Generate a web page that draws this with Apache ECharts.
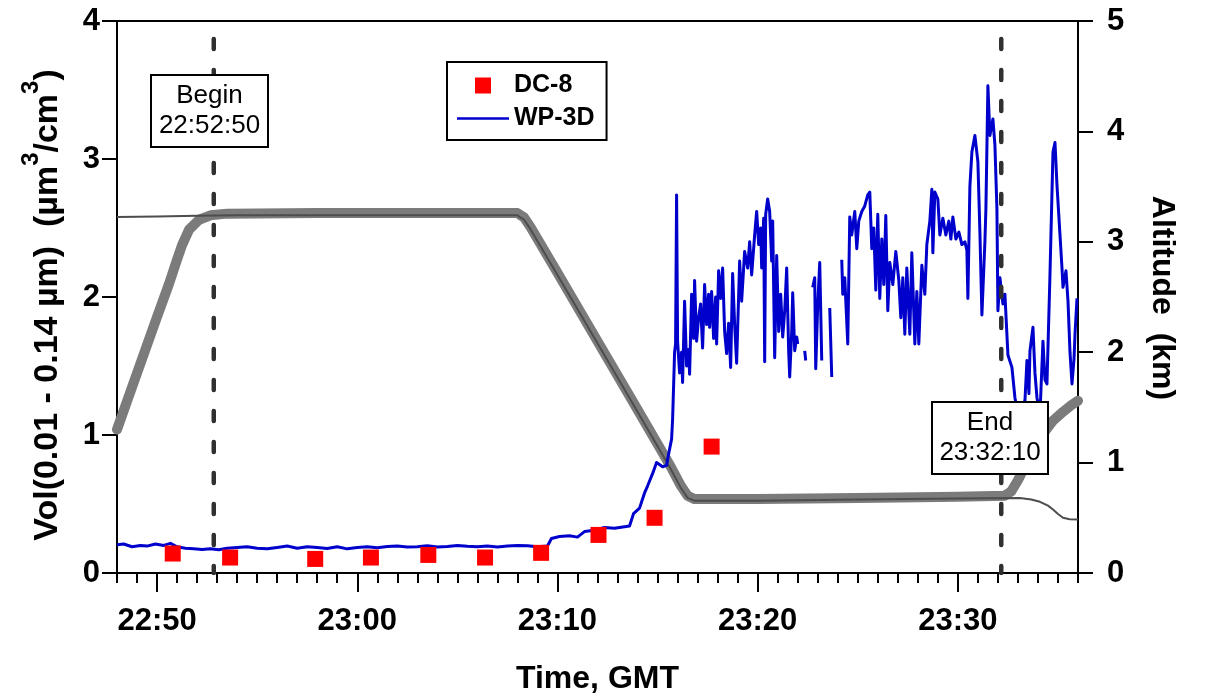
<!DOCTYPE html>
<html><head><meta charset="utf-8">
<script src="https://cdn.jsdelivr.net/npm/echarts@6/dist/echarts.min.js"></script>
<style>html,body{margin:0;padding:0;background:#fff}#c{width:1205px;height:700px}</style>
</head><body><div id="c"></div>
<script>
// ---------- data ----------
const xTickLabels = ['22:50', '23:00', '23:10', '23:20', '23:30'];
const xMin = '22:48', xMax = '23:36';
const beginTime = '22:52:50', endTime = '23:32:10';

const dc8Times = ['22:50:47','22:53:39','22:57:54','23:00:41','23:03:33','23:06:23','23:09:11','23:12:03','23:14:51','23:17:42'];
const dc8Vol   = [0.141, 0.112, 0.102, 0.112, 0.131, 0.112, 0.146, 0.276, 0.400, 0.916];

const wp3dTimes = [
'22:48:00','22:48:20','22:48:45','22:49:10','22:49:30','22:49:55','22:50:20','22:50:40','22:51:00','22:51:25',
'22:51:50','22:52:15','22:52:40','22:53:05','22:53:30','22:54:00','22:54:30','22:55:00','22:55:30','22:56:00',
'22:56:30','22:57:00','22:57:30','22:58:00','22:58:30','22:59:00','22:59:30','23:00:00','23:00:30','23:01:00',
'23:01:30','23:02:00','23:02:30','23:03:00','23:03:30','23:04:00','23:04:30','23:05:00','23:05:30','23:06:00',
'23:06:30','23:07:00','23:07:30','23:08:00','23:08:30','23:09:00','23:09:30','23:09:42','23:10:06','23:10:36',
'23:11:00','23:11:21','23:11:51','23:12:21','23:12:51','23:13:21','23:13:36','23:13:48','23:14:06','23:14:21',
'23:14:30','23:14:45','23:14:57','23:15:15','23:15:27','23:15:33','23:15:42','23:15:45','23:15:48','23:15:51',
'23:15:54','23:15:57','23:16:00','23:16:06','23:16:12','23:16:15','23:16:21','23:16:27','23:16:33','23:16:36',
'23:16:42','23:16:48','23:16:51','23:16:57','23:17:03','23:17:09','23:17:15','23:17:21','23:17:27','23:17:33',
'23:17:36','23:17:42','23:17:48','23:17:54','23:17:57','23:18:03','23:18:09','23:18:15','23:18:21','23:18:27',
'23:18:33','23:18:39','23:18:45','23:18:51','23:18:57','23:19:06','23:19:12','23:19:21','23:19:30','23:19:36',
'23:19:42','23:19:51','23:19:57','23:20:03','23:20:09','23:20:12','23:20:18','23:20:21','23:20:24','23:20:30',
'23:20:36','23:20:42','23:20:45','23:20:51','23:20:57','23:21:03','23:21:09','23:21:15','23:21:21','23:21:27',
'23:21:33','23:21:36','23:21:42','23:21:45','23:21:51','23:21:57','23:22:00','23:22:10','23:22:21','23:22:24',
'23:22:35','23:22:45','23:22:51','23:22:54','23:23:00','23:23:06','23:23:12','23:23:24','23:23:36','23:23:42',
'23:24:00','23:24:12','23:24:15','23:24:21','23:24:30','23:24:36','23:24:42','23:24:51','23:24:57','23:25:03',
'23:25:12','23:25:21','23:25:30','23:25:36','23:25:42','23:25:48','23:25:54','23:26:00','23:26:06','23:26:12',
'23:26:18','23:26:24','23:26:30','23:26:36','23:26:45','23:26:54','23:27:03','23:27:09','23:27:15','23:27:21',
'23:27:27','23:27:36','23:27:42','23:27:51','23:27:57','23:28:03','23:28:12','23:28:21','23:28:27','23:28:36',
'23:28:42','23:28:45','23:28:51','23:29:00','23:29:06','23:29:15','23:29:24','23:29:33','23:29:39','23:29:45',
'23:29:54','23:30:03','23:30:12','23:30:21','23:30:27','23:30:30','23:30:36','23:30:42','23:30:51','23:31:00',
'23:31:06','23:31:12','23:31:21','23:31:24','23:31:30','23:31:36','23:31:45','23:31:51','23:31:57','23:32:00',
'23:32:06','23:32:15','23:32:21','23:32:30','23:32:42','23:32:51','23:33:00','23:33:12','23:33:21','23:33:27',
'23:33:33','23:33:36','23:33:45','23:33:51','23:33:57','23:34:06','23:34:15','23:34:21','23:34:27','23:34:36',
'23:34:45','23:34:51','23:34:57','23:35:06','23:35:12','23:35:15','23:35:24','23:35:30','23:35:36','23:35:42',
'23:35:48','23:35:51','23:35:57'];
const wp3dVol = [
0.205,0.210,0.190,0.200,0.195,0.210,0.200,0.215,0.190,0.180,
0.175,0.170,0.175,0.168,0.180,0.185,0.190,0.180,0.175,0.185,
0.195,0.180,0.190,0.185,0.178,0.190,0.175,0.185,0.190,0.183,
0.192,0.195,0.188,0.190,0.197,0.188,0.192,0.200,0.194,0.190,
0.196,0.188,0.195,0.200,0.198,0.190,0.196,0.250,0.265,0.270,
0.260,0.300,0.310,0.330,0.325,0.335,0.340,0.430,0.470,0.580,
0.630,0.720,0.800,0.770,0.780,0.860,0.970,1.110,1.350,1.600,
1.660,2.740,1.680,1.450,1.600,1.380,1.970,1.500,1.620,1.440,
2.020,1.700,2.120,1.680,1.850,1.950,1.630,2.090,1.800,2.020,
1.780,2.040,1.700,2.000,1.660,2.190,1.990,2.210,1.750,1.590,
1.810,1.490,2.170,1.800,1.520,2.260,1.970,2.330,2.210,2.400,
2.160,2.450,2.620,2.380,2.500,2.210,2.570,1.530,2.600,2.710,
2.620,2.260,2.550,1.560,2.300,1.750,2.020,1.710,1.900,2.210,
1.600,1.420,1.750,2.030,1.610,1.710,1.660,null,1.610,1.540,
null,2.070,2.140,1.480,1.940,2.250,1.540,null,1.920,1.420,
null,2.270,2.020,2.140,1.660,2.580,2.450,2.620,2.350,2.550,
2.620,2.660,2.740,2.760,2.350,2.500,2.050,2.600,1.990,2.420,
2.090,2.590,1.900,2.250,2.090,2.330,2.120,1.850,2.140,1.730,
2.210,1.730,2.320,1.660,2.040,1.660,2.230,2.020,2.380,2.550,
2.780,2.320,2.760,2.710,2.450,2.570,2.450,2.550,2.420,2.580,
2.420,2.470,2.380,2.400,2.340,1.990,2.800,3.050,3.170,2.980,
2.470,1.870,2.400,2.640,3.530,3.170,3.290,3.100,2.640,1.900,
2.140,1.950,2.020,1.580,1.490,1.270,1.150,1.100,1.250,1.540,
1.300,1.610,1.780,1.450,1.270,1.150,1.680,1.400,1.370,2.160,
3.050,3.120,2.810,2.450,2.210,2.070,2.190,1.970,1.600,1.370,
1.550,1.730,1.990];

const dc8AltTimes = ['22:48:00','22:49:00','22:50:00','22:50:36','22:51:00','22:51:15','22:51:36','22:52:06','22:52:40','22:53:30',
'22:58:00','23:03:00','23:08:00','23:08:20','23:08:40','23:10:00','23:12:00','23:14:00','23:15:40','23:16:10',
'23:16:30','23:16:50','23:20:00','23:25:00','23:30:00','23:32:20','23:32:40','23:33:00','23:33:20','23:33:50',
'23:34:20','23:34:45','23:35:15','23:35:40','23:36:00'];
const dc8Alt = [1.30,1.81,2.32,2.62,2.84,2.97,3.11,3.20,3.24,3.255,
3.26,3.26,3.26,3.22,3.13,2.72,2.10,1.48,0.96,0.79,
0.70,0.67,0.67,0.68,0.69,0.70,0.74,0.84,0.96,1.13,
1.28,1.38,1.46,1.52,1.56];

const wp3dAltTimes = ['22:48:00','22:50:00','22:52:00','22:54:00','23:00:00','23:08:00','23:08:20','23:08:40','23:10:00','23:12:00',
'23:14:00','23:15:40','23:16:10','23:16:30','23:16:50','23:20:00','23:25:00','23:30:00','23:33:06','23:33:40',
'23:34:06','23:34:30','23:34:45','23:35:00','23:35:15','23:35:35','23:36:00'];
const wp3dAlt = [3.225,3.23,3.235,3.24,3.24,3.24,3.20,3.11,2.70,2.08,
1.46,0.94,0.77,0.68,0.655,0.655,0.665,0.675,0.68,0.665,
0.645,0.61,0.575,0.535,0.50,0.487,0.485];

// ---------- helpers ----------
function toSec(s) { const p = s.split(':').map(Number); return p[0]*3600 + p[1]*60 + (p[2] || 0); }
function pad(n) { return (n < 10 ? '0' : '') + n; }
function fmtHM(v) { const h = Math.floor(v/3600), m = Math.round((v - h*3600)/60); return pad(h) + ':' + pad(m); }
function pairs(ts, vs) { return ts.map((t, i) => [toSec(t), vs[i] === null ? '-' : vs[i]]); }

const minorTicks = [];
for (let s = toSec(xMin); s <= toSec(xMax); s += 60) minorTicks.push(s);
const majorTicks = xTickLabels.map(toSec);

const FONT = '"Liberation Sans", Arial, sans-serif';
const chart = echarts.init(document.getElementById('c'), null, {renderer: 'canvas'});

chart.setOption({
  animation: false,
  backgroundColor: '#fff',
  textStyle: {fontFamily: FONT},
  grid: {left: 117, right: 127, top: 21, bottom: 123, show: true, borderColor: '#000', borderWidth: 2, containLabel: false},
  legend: {
    orient: 'vertical', left: 447, top: 62,
    itemWidth: 52, itemHeight: 16, itemGap: 8, itemTextGap: 17,
    padding: [11, 12, 9, 10],
    borderColor: '#000', borderWidth: 2, backgroundColor: '#fff',
    textStyle: {fontSize: 25, fontWeight: 'bold', color: '#000', fontFamily: FONT},
    data: [
      {name: 'DC-8', icon: 'path://M0,0L10,0L10,10L0,10Z'},
      {name: 'WP-3D', icon: 'path://M0,0L52,0L52,2.5L0,2.5Z'}
    ]
  },
  xAxis: [{
    type: 'value', min: toSec(xMin), max: toSec(xMax),
    name: 'Time, GMT', nameLocation: 'middle', nameGap: 90,
    nameTextStyle: {fontSize: 32, fontWeight: 'bold', color: '#000', fontFamily: FONT},
    axisLine: {show: true, lineStyle: {color: '#000', width: 2}},
    axisTick: {show: true, customValues: majorTicks, length: 19, lineStyle: {color: '#000', width: 2}},
    axisLabel: {show: true, customValues: majorTicks, formatter: v => fmtHM(v), margin: 33,
      fontSize: 31, fontWeight: 'bold', color: '#000', fontFamily: FONT},
    splitLine: {show: false}
  }, {
    type: 'value', min: toSec(xMin), max: toSec(xMax), position: 'bottom',
    axisLine: {show: false},
    axisTick: {show: true, customValues: minorTicks, length: 10, lineStyle: {color: '#000', width: 2}},
    axisLabel: {show: false},
    splitLine: {show: false}
  }],
  yAxis: [{
    type: 'value', min: 0, max: 4, interval: 1, position: 'left',
    axisLine: {show: true, lineStyle: {color: '#000', width: 2}},
    axisTick: {show: true, length: 15, lineStyle: {color: '#000', width: 2}},
    axisLabel: {margin: 17, fontSize: 31, fontWeight: 'bold', color: '#000', fontFamily: FONT},
    splitLine: {show: false}
  }, {
    type: 'value', min: 0, max: 5, interval: 1, position: 'right',
    axisLine: {show: true, lineStyle: {color: '#000', width: 2}},
    axisTick: {show: true, length: 15, lineStyle: {color: '#000', width: 2}},
    axisLabel: {margin: 29, fontSize: 31, fontWeight: 'bold', color: '#000', fontFamily: FONT},
    splitLine: {show: false}
  }],
  series: [
    {name: 'DC-8 altitude', type: 'line', yAxisIndex: 1, symbol: 'none', z: 2,
     data: pairs(dc8AltTimes, dc8Alt), lineStyle: {color: '#7b7b7b', width: 10, join: 'round', cap: 'round'}},
    {name: 'WP-3D altitude', type: 'line', yAxisIndex: 1, symbol: 'none', z: 3,
     data: pairs(wp3dAltTimes, wp3dAlt), lineStyle: {color: '#4d4d4d', width: 2}},
    {name: 'WP-3D', type: 'line', yAxisIndex: 0, symbol: 'none', showSymbol: false, z: 4, connectNulls: false,
     data: pairs(wp3dTimes, wp3dVol), color: '#0000CC', itemStyle: {color: '#0000CC'},
     lineStyle: {color: '#0000CC', width: 3, join: 'round'}},
    {name: 'Begin', type: 'line', yAxisIndex: 0, symbol: 'none', z: 5,
     data: [[toSec(beginTime), 3.87], [toSec(beginTime), 0]],
     lineStyle: {color: '#303030', width: 4.5, type: [10, 21], cap: 'round'}},
    {name: 'End', type: 'line', yAxisIndex: 0, symbol: 'none', z: 5,
     data: [[toSec(endTime), 3.87], [toSec(endTime), 0]],
     lineStyle: {color: '#303030', width: 4.5, type: [10, 21], cap: 'round'}},
    {name: 'DC-8', type: 'scatter', yAxisIndex: 0, symbol: 'rect', symbolSize: 16, z: 6,
     data: pairs(dc8Times, dc8Vol), itemStyle: {color: '#ff0000', opacity: 1}}
  ],
  graphic: [
    {type: 'group', z: 100, children: [
      {type: 'rect', shape: {x: 151, y: 75, width: 117, height: 72}, style: {fill: '#fff', stroke: '#000', lineWidth: 2}, z: 100},
      {type: 'text', x: 209.5, y: 111, z: 101, style: {text: 'Begin\n' + beginTime, fill: '#000', align: 'center', verticalAlign: 'middle',
        font: '26px ' + FONT, lineHeight: 30}}
    ]},
    {type: 'group', z: 100, children: [
      {type: 'rect', shape: {x: 932, y: 402, width: 116, height: 72}, style: {fill: '#fff', stroke: '#000', lineWidth: 2}, z: 100},
      {type: 'text', x: 990, y: 438, z: 101, style: {text: 'End\n' + endTime, fill: '#000', align: 'center', verticalAlign: 'middle',
        font: '26px ' + FONT, lineHeight: 30}}
    ]},
    {type: 'text', x: 48, y: 305, rotation: Math.PI/2, z: 100,
     style: {text: 'Vol(0.01 - 0.14 µm)  (µm{s|3}/cm{s|3})', fill: '#000', align: 'center', verticalAlign: 'middle',
       font: 'bold 34px ' + FONT, lineHeight: 58,
       rich: {s: {fontSize: 24, fontWeight: 'bold', fontFamily: FONT, fill: '#000', verticalAlign: 'top', lineHeight: 24}}}},
    {type: 'text', x: 1162, y: 298, rotation: -Math.PI/2, z: 100,
     style: {text: 'Altitude  (km)', fill: '#000', align: 'center', verticalAlign: 'middle', font: 'bold 32px ' + FONT}}
  ]
});
</script>
</body></html>
